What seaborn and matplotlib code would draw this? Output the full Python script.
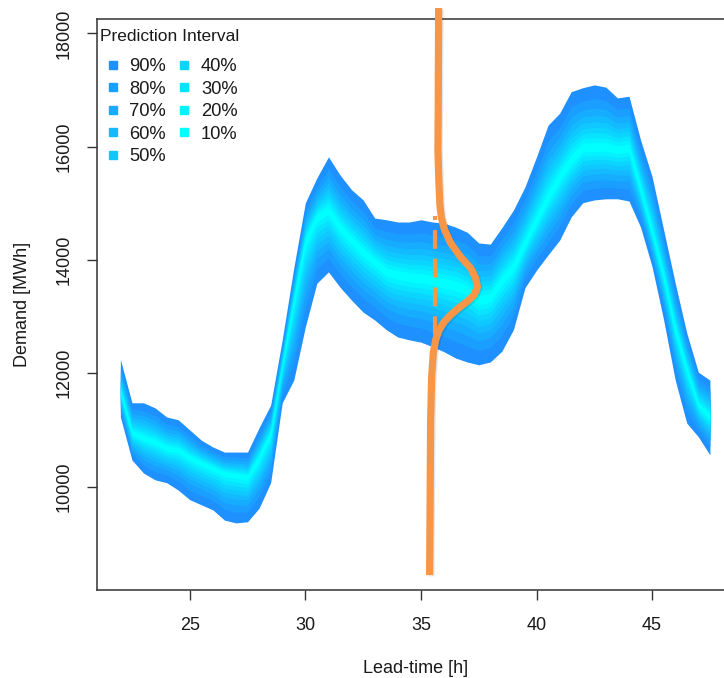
import matplotlib
matplotlib.use("Agg")
import numpy as np
import pandas as pd
import seaborn as sns
import matplotlib.pyplot as plt
import matplotlib.patheffects as pe
from matplotlib.lines import Line2D
from statistics import NormalDist

# ---------------- data ----------------
lead_time = [22.0, 22.5, 23.0, 23.5, 24.0, 24.5, 25.0, 25.5, 26.0, 26.5,
             27.0, 27.5, 28.0, 28.5, 29.0, 29.5, 30.0, 30.5, 31.0, 31.5,
             32.0, 32.5, 33.0, 33.5, 34.0, 34.5, 35.0, 35.5, 36.0, 36.5,
             37.0, 37.5, 38.0, 38.5, 39.0, 39.5, 40.0, 40.5, 41.0, 41.5,
             42.0, 42.5, 43.0, 43.5, 44.0, 44.5, 45.0, 45.5, 46.0, 46.5,
             47.0, 47.5]
upper90 = [12250, 11480, 11480, 11390, 11230, 11180, 11000, 10820, 10700, 10610,
           10610, 10610, 11040, 11440, 12590, 13860, 15010, 15450, 15820, 15500,
           15240, 15060, 14740, 14710, 14670, 14670, 14710, 14670, 14650, 14580,
           14490, 14300, 14280, 14570, 14880, 15290, 15820, 16380, 16590, 16970,
           17040, 17090, 17050, 16860, 16890, 16120, 15470, 14530, 13590, 12710,
           12020, 11880]
median = [11670, 10950, 10860, 10790, 10680, 10650, 10520, 10420, 10330, 10240,
          10210, 10170, 10520, 10950, 12150, 13290, 14350, 14760, 14880, 14570,
          14350, 14140, 13970, 13790, 13740, 13700, 13680, 13650, 13590, 13560,
          13470, 13290, 13350, 13650, 13880, 14300, 14710, 15110, 15470, 15770,
          15980, 15990, 15990, 15940, 15980, 15240, 14480, 13700, 12770, 12060,
          11440, 11230]
lower90 = [11230, 10470, 10240, 10120, 10070, 9940, 9770, 9680, 9590, 9410,
           9360, 9380, 9620, 10070, 11480, 11880, 12820, 13590, 13790, 13520,
           13290, 13080, 12940, 12770, 12640, 12590, 12550, 12470, 12380, 12270,
           12200, 12150, 12200, 12390, 12770, 13510, 13820, 14090, 14350, 14760,
           15010, 15060, 15080, 15080, 15040, 14580, 13880, 12940, 11880, 11120,
           10880, 10560]

intervals = [90, 80, 70, 60, 50, 40, 30, 20, 10]
interval_labels = ["90%", "80%", "70%", "60%", "50%", "40%", "30%", "20%", "10%"]
legend_title = "Prediction Interval"

# predictive density drawn at lead time ~35.5 h
orange_demand = [18447, 17529, 16647, 15941, 15359, 14971, 14741, 14529, 14300,
                 14053, 13859, 13682, 13524, 13382, 13259, 13153, 13029, 12906,
                 12765, 12588, 12359, 11935, 11176, 9765, 8441]
orange_lead = [35.766, 35.757, 35.748, 35.735, 35.779, 35.822, 35.887, 36.025, 36.285,
               36.717, 37.150, 37.366, 37.444, 37.301, 36.977, 36.631, 36.285, 36.003,
               35.787, 35.636, 35.536, 35.463, 35.420, 35.398, 35.376]
dashed_lead = [35.62, 35.62]
dashed_demand = [12680, 14780]

x_ticks = [25, 30, 35, 40, 45]
y_ticks = [10000, 12000, 14000, 16000, 18000]

# ---------------- style ----------------
sns.set_theme(style="ticks")
plt.rcParams["font.family"] = ["Liberation Sans", "DejaVu Sans"]
text_col = "#1a1a1a"
orange = "#F79646"

dodger = np.array([30, 144, 255]) / 255.0
cyan = np.array([0, 255, 255]) / 255.0
interval_colors = [tuple(dodger + (cyan - dodger) * i / (len(intervals) - 1))
                   for i in range(len(intervals))]

fig = plt.figure(figsize=(7.24, 6.78), dpi=100)
ax = fig.add_axes([0.1337, 0.1298, 0.8794, 0.8422])

# ---------------- fan ----------------
lt = np.array(lead_time)
med = np.array(median)
up = np.array(upper90)
lo = np.array(lower90)
z90 = NormalDist().inv_cdf(0.95)
for p, col in zip(intervals, interval_colors):
    frac = NormalDist().inv_cdf(0.5 + p / 200.0) / z90
    hi_p = med + (up - med) * frac
    lo_p = med - (med - lo) * frac
    ax.fill_between(lt, lo_p, hi_p, color=col, linewidth=0, zorder=2)

# ---------------- density curve ----------------
dens = pd.DataFrame({"lead": orange_lead, "demand": orange_demand})
sns.lineplot(data=dens, x="lead", y="demand", orient="y", sort=True,
             estimator=None, color=orange, linewidth=5.2, ax=ax, zorder=5)
curve = ax.lines[-1]
curve.set_clip_on(False)
curve.set_solid_capstyle("butt")
curve.set_solid_joinstyle("round")
curve.set_path_effects([pe.SimpleLineShadow(offset=(1.0, -1.0), shadow_color="black", alpha=0.10),
                        pe.Normal()])

ax.plot(dashed_lead, dashed_demand, color=orange, linewidth=3.0,
        linestyle=(0, (4.5, 2.4)), zorder=4, dash_capstyle="butt")

# ---------------- axes ----------------
ax.set_xlim(20.98, 48.52)
ax.set_ylim(8176, 18253)
ax.set_xticks(x_ticks)
ax.set_yticks(y_ticks)
ax.set_xticklabels([str(t) for t in x_ticks])
ax.set_yticklabels([str(t) for t in y_ticks])
ax.tick_params(axis="both", length=7.2, width=1.0, color="#333333",
               labelsize=13, labelcolor=text_col)
ax.tick_params(axis="x", pad=12)
ax.tick_params(axis="y", pad=10, labelrotation=90)
for lab in ax.get_yticklabels():
    lab.set_verticalalignment("center")
for s in ["left", "bottom", "top", "right"]:
    ax.spines[s].set_color("#333333")
    ax.spines[s].set_linewidth(1.1)
ax.set_xlabel("Lead-time [h]", fontsize=13, color=text_col, labelpad=19)
ax.set_ylabel("Demand [MWh]", fontsize=13, color=text_col, labelpad=18)

# ---------------- legend ----------------
ax.text(0.005, 0.9685, legend_title, transform=ax.transAxes, ha="left", va="center",
        fontsize=12.5, color=text_col, zorder=6)
handles = [Line2D([], [], marker="s", linestyle="none", markersize=6,
                  markerfacecolor=c, markeredgecolor=c) for c in interval_colors]
leg = ax.legend(handles, interval_labels, ncol=2,
                loc="upper left", bbox_to_anchor=(0.0137, 0.931), frameon=False,
                fontsize=13.2, borderpad=0, borderaxespad=0,
                handlelength=0.8, handletextpad=0.5, columnspacing=0.6,
                labelspacing=0.30)
for t in leg.get_texts():
    t.set_color(text_col)

fig.savefig("out.png", dpi=100)
